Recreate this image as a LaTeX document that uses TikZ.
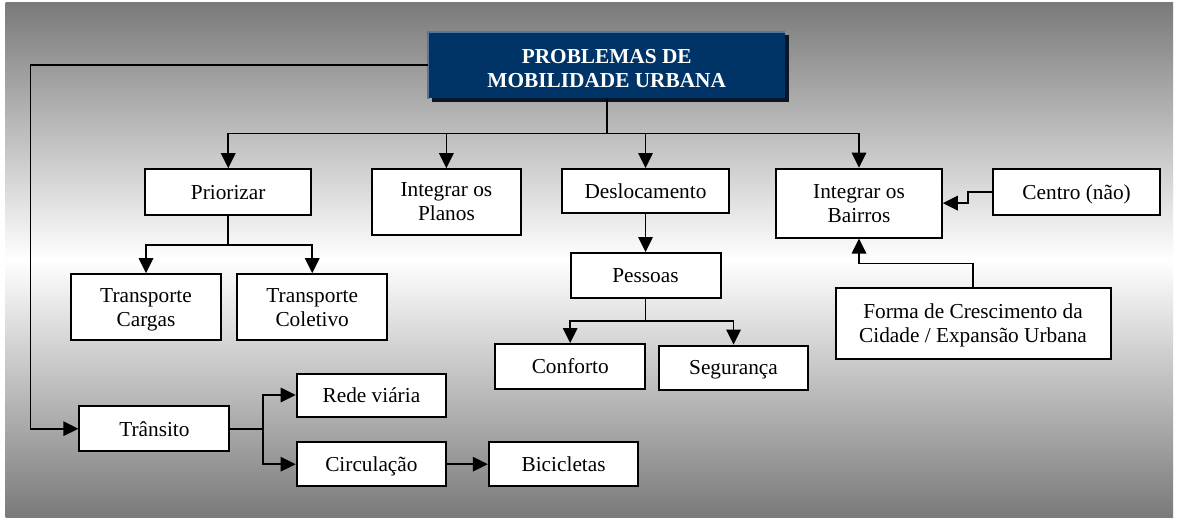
\documentclass[tikz,border=0pt]{standalone}
\usepackage{fontspec}
\setmainfont{Liberation Serif}
\usetikzlibrary{arrows.meta}
\definecolor{bgg}{RGB}{122,122,122}
\definecolor{navy}{RGB}{0,51,102}
\definecolor{navylight}{RGB}{88,118,158}
\definecolor{navyshadow}{RGB}{10,22,40}
\begin{document}
\begin{tikzpicture}[x=1pt,y=-1pt,
  box/.style={draw=black, fill=white, line width=2pt, inner sep=0pt, align=center,
              text depth=0pt, font=\fontsize{21.3}{24}\selectfont},
  titlebox/.style={fill=navy, inner sep=0pt, align=center, text=white,
              font=\bfseries\fontsize{21.3}{24}\selectfont},
  conn/.style={line width=1.6pt, draw=black},
  arr/.style={conn, -{Triangle[length=15pt,width=14.5pt]}}
]
\useasboundingbox (0,0) rectangle (1180,519);
\fill[white] (0,0) rectangle (1180,519);
\shade[top color=bgg, bottom color=bgg, middle color=white] (5.5,3) rectangle (1173,517);

% title
\fill[navyshadow] (431.5,35.5) rectangle (788.5,101.5);
\node[titlebox, minimum width=356.7pt, minimum height=66pt, text height=44pt, text depth=0pt] (main) at (606.7,65.3)
  {PROBLEMAS DE\\MOBILIDADE URBANA};
\draw[navylight, line width=1.6pt] (main.south west) -- (main.north west) -- (main.north east);

% first row
\node[box, minimum width=165.5pt, minimum height=46pt] (prio) at (228.2,192.2) {Priorizar};
\node[box, minimum width=148.5pt, minimum height=65.5pt] (planos) at (446.4,201.9) {Integrar os\\Planos};
\node[box, minimum width=166.5pt, minimum height=43.5pt] (desl) at (645.5,190.8) {Deslocamento};
\node[box, minimum width=165.5pt, minimum height=69pt] (bairros) at (859,203.1) {Integrar os\\Bairros};
\node[box, minimum width=166.5pt, minimum height=46pt] (centro) at (1076.6,192) {Centro (não)};

% second row
\node[box, minimum width=150pt, minimum height=66pt] (cargas) at (146,307.2) {Transporte\\Cargas};
\node[box, minimum width=150.5pt, minimum height=66pt] (coletivo) at (312.2,307.2) {Transporte\\Coletivo};
\node[box, minimum width=150pt, minimum height=44.5pt] (pess) at (645.5,275.3) {Pessoas};
\node[box, minimum width=149.5pt, minimum height=44.5pt] (conf) at (570.2,366.3) {Conforto};
\node[box, minimum width=149.5pt, minimum height=44.5pt] (seg) at (733.5,367.8) {Segurança};
\node[box, minimum width=275pt, minimum height=71.5pt] (forma) at (973,323.5)
  {Forma de Crescimento da\\Cidade / Expansão Urbana};

% bottom
\node[box, minimum width=150pt, minimum height=44.5pt] (trans) at (154.4,428.7) {Trânsito};
\node[box, minimum width=149.5pt, minimum height=43pt] (rede) at (371.4,395) {Rede viária};
\node[box, minimum width=149.5pt, minimum height=43.5pt] (circ) at (371.4,464.2) {Circulação};
\node[box, minimum width=149.5pt, minimum height=43.5pt] (bic) at (563.6,464.2) {Bicicletas};

% connectors from title
\coordinate (bus) at (main.south |- 0,133.3);
\draw[conn] (main.south) -- (bus);
\draw[arr] (bus) -| (prio.north);
\draw[arr] (bus) -| (planos.north);
\draw[arr] (bus) -| (desl.north);
\draw[arr] (bus) -| (bairros.north);

\coordinate (lc) at (30.6,65.3);
\draw[arr] (main.west) -- (lc) |- (trans.west);

% Priorizar
\coordinate (pb) at (prio.south |- 0,245);
\draw[conn] (prio.south) -- (pb);
\draw[arr] (pb) -| (cargas.north);
\draw[arr] (pb) -| (coletivo.north);

% Deslocamento / Pessoas
\draw[arr] (desl.south) -- (pess.north);
\coordinate (psb) at (pess.south |- 0,320.7);
\draw[conn] (pess.south) -- (psb);
\draw[arr] (psb) -| (conf.north);
\draw[arr] (psb) -| (seg.north);

% Bairros inputs
\coordinate (cj) at (968,192);
\draw[arr] (centro.west) -- (cj) |- (bairros.east);
\coordinate (fj) at (forma.north |- 0,263.3);
\draw[arr] (forma.north) -- (fj) -| (bairros.south);

% Transito
\coordinate (tj) at (262.7,428.7);
\draw[conn] (trans.east) -- (tj);
\draw[arr] (tj) |- (rede.west);
\draw[arr] (tj) |- (circ.west);
\draw[arr] (circ.east) -- (bic.west);
\end{tikzpicture}
\end{document}
